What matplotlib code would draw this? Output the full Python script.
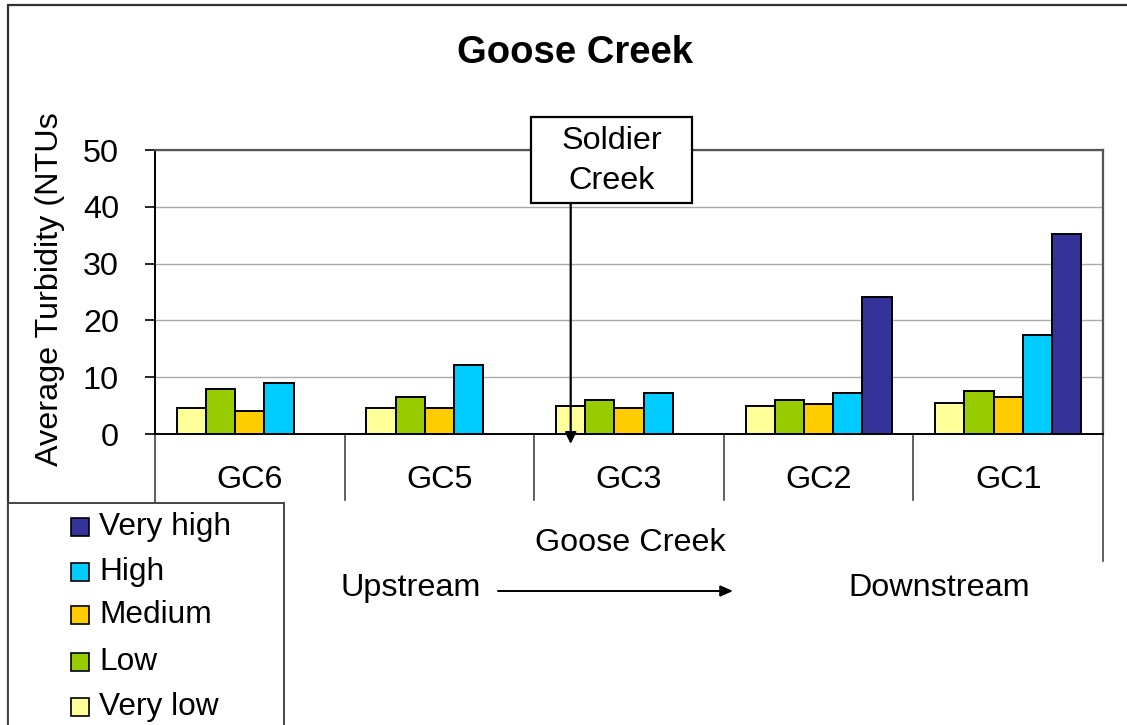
import numpy as np
import matplotlib
matplotlib.use("Agg")
import matplotlib.pyplot as plt
from matplotlib.patches import Rectangle, FancyArrowPatch
from matplotlib.transforms import blended_transform_factory

plt.rcParams['font.family'] = ['Liberation Sans', 'DejaVu Sans']

# ---- data ----
sites = ["GC6", "GC5", "GC3", "GC2", "GC1"]
series_names = ["Very low", "Low", "Medium", "High", "Very high"]
very_low = [4.5, 4.5, 4.9, 4.9, 5.5]
low = [8.0, 6.6, 5.9, 5.9, 7.6]
medium = [4.1, 4.5, 4.5, 5.2, 6.6]
high = [9.0, 12.1, 7.3, 7.3, 17.4]
very_high = [np.nan, np.nan, np.nan, 24.1, 35.2]
colors = ["#FFFF99", "#99CC00", "#FFCC00", "#00CCFF", "#333399"]
yticks = [0, 10, 20, 30, 40, 50]

FS = 23.3
W, H = 1127, 725
fig = plt.figure(figsize=(W / 100, H / 100), dpi=100)


def fx(x):
    return x / W


def fy(y):
    return 1 - y / H


# outer chart frame
fig.patches.append(Rectangle((fx(8), fy(760)), fx(1140) - fx(8), fy(5) - fy(760),
                             transform=fig.transFigure, fill=False,
                             edgecolor="#333333", lw=1.6, zorder=0))

ax = fig.add_axes([fx(155), fy(434), fx(1103) - fx(155), fy(150) - fy(434)])

all_series = [very_low, low, medium, high, very_high]
n = len(all_series)
w = 1 / (n + 1.5)
x = np.arange(len(sites))
for i, (vals, c) in enumerate(zip(all_series, colors)):
    vals = np.array(vals, dtype=float)
    m = ~np.isnan(vals)
    ax.bar(x[m] + (i - (n - 1) / 2) * w, vals[m], width=w, color=c,
           edgecolor="black", linewidth=1.4, zorder=3)

ax.set_xlim(-0.5, len(sites) - 0.5)
ax.set_ylim(0, 50)
ax.set_yticks(yticks)
ax.set_yticklabels([str(t) for t in yticks], fontsize=FS)
ax.tick_params(axis='y', direction='out', length=7, width=1.2, pad=19)
ax.set_xticks([])
ax.yaxis.grid(True, color="#AAAAAA", lw=1.0, zorder=0)
ax.set_axisbelow(True)
for s in ["top", "right"]:
    ax.spines[s].set_color("#555555")
    ax.spines[s].set_linewidth(1.6)
ax.spines["left"].set_color("black")
ax.spines["left"].set_linewidth(1.4)
ax.spines["bottom"].set_color("black")
ax.spines["bottom"].set_linewidth(1.4)

# multi-level category axis
trans = blended_transform_factory(ax.transData, ax.transAxes)
for b in np.arange(0.5, len(sites) - 1, 1.0):
    ax.plot([b, b], [0, -0.232], color="#444444", lw=1.2, transform=trans, clip_on=False)
for b in [-0.5, len(sites) - 0.5]:
    ax.plot([b, b], [0, -0.447], color="#444444", lw=1.2, transform=trans, clip_on=False)
for xi, s in zip(x, sites):
    ax.text(xi, -0.162, s, transform=trans, ha='center', va='center', fontsize=FS)
ax.text(fx(630), fy(543), "Goose Creek", transform=fig.transFigure,
        ha='center', va='center', fontsize=FS)

# title and y label
fig.text(fx(575), fy(53), "Goose Creek", ha='center', va='center',
         fontsize=27.5, fontweight='bold')
fig.text(fx(50), fy(466), "Average Turbidity (NTUs", rotation=90,
         rotation_mode='anchor', ha='left', va='center', fontsize=FS)

# Soldier Creek callout
fig.patches.append(Rectangle((fx(531), fy(203)), fx(692) - fx(531), fy(117) - fy(203),
                             transform=fig.transFigure, facecolor="white",
                             edgecolor="black", lw=1.6, zorder=5))
fig.text(fx(612), fy(161), "Soldier\nCreek", ha='center', va='center',
         fontsize=FS, linespacing=1.45, zorder=6)
fig.add_artist(FancyArrowPatch(
    (fx(570.7), fy(203)), (fx(570.7), fy(444)), transform=fig.transFigure,
    arrowstyle='-|>,head_length=0.45,head_width=0.22', mutation_scale=15,
    color='black', lw=1.6, shrinkA=0, shrinkB=0, zorder=6))

# Upstream -> Downstream
fig.text(fx(411), fy(588), "Upstream", ha='center', va='center', fontsize=FS)
fig.text(fx(939), fy(588), "Downstream", ha='center', va='center', fontsize=FS)
fig.add_artist(FancyArrowPatch(
    (fx(498), fy(591)), (fx(733), fy(591)), transform=fig.transFigure,
    arrowstyle='-|>,head_length=0.5,head_width=0.22', mutation_scale=15,
    color='black', lw=1.4, shrinkA=0, shrinkB=0))

# legend (manual, reversed order)
fig.patches.append(Rectangle((fx(8), fy(760)), fx(284) - fx(8), fy(503) - fy(760),
                             transform=fig.transFigure, facecolor="white",
                             edgecolor="#444444", lw=1.4, zorder=7))
leg_y = [707, 662, 615, 572, 527]
for name, c, yy in zip(series_names, colors, leg_y):
    fig.patches.append(Rectangle((fx(71), fy(yy + 9)), fx(89) - fx(71), fy(yy - 9) - fy(yy + 9),
                                 transform=fig.transFigure, facecolor=c,
                                 edgecolor="black", lw=1.2, zorder=8))
    fig.text(fx(99), fy(yy), name, ha='left', va='center', fontsize=FS - 0.5, zorder=8)

fig.savefig("out.png", dpi=100)
